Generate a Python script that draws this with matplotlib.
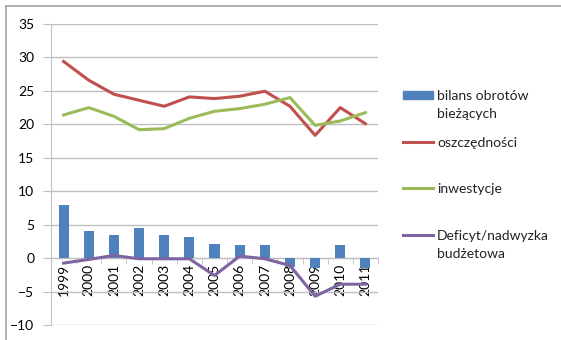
import matplotlib
matplotlib.use("Agg")
import matplotlib.pyplot as plt
from matplotlib.lines import Line2D
from matplotlib.patches import Rectangle

plt.rcParams['font.family'] = ['Lato', 'DejaVu Sans']

years = ['1999', '2000', '2001', '2002', '2003', '2004', '2005',
         '2006', '2007', '2008', '2009', '2010', '2011']
bilans = [8.0, 4.1, 3.4, 4.5, 3.5, 3.2, 2.1, 1.9, 1.9, -1.3, -1.5, 1.9, -1.5]
oszczednosci = [29.4, 26.6, 24.5, 23.6, 22.7, 24.1, 23.85, 24.2, 24.95,
                22.7, 18.35, 22.5, 20.1]
inwestycje = [21.4, 22.5, 21.2, 19.2, 19.35, 20.9, 21.95, 22.35, 23.0,
              24.0, 19.85, 20.5, 21.75]
deficyt = [-0.75, -0.2, 0.4, -0.1, -0.1, -0.1, -2.6, 0.3, -0.1,
           -1.1, -5.7, -3.9, -3.9]

labels = ['bilans obrotów\nbieżących', 'oszczędności', 'inwestycje',
          'Deficyt/nadwyzka\nbudżetowa']

BLUE = '#4F81BD'
RED = '#C0504D'
GREEN = '#9BBB59'
PURPLE = '#8064A2'
GRID = '#BFBFBF'

W, H = 561, 340
fig = plt.figure(figsize=(W / 100, H / 100), dpi=100)


def fx(x):
    return x / W


def fy(y):
    return 1 - y / H


ax = fig.add_axes([fx(51), fy(325), fx(378) - fx(51), fy(24) - fy(325)])

x = list(range(len(years)))
ax.bar(x, bilans, width=0.4, color=BLUE, zorder=2)
ax.plot(x, oszczednosci, color=RED, lw=2.2, zorder=3)
ax.plot(x, inwestycje, color=GREEN, lw=2.2, zorder=3)
ax.plot(x, deficyt, color=PURPLE, lw=2.2, zorder=3)

ax.set_xlim(-0.5, len(years) - 0.5)
ax.set_ylim(-10, 35)
ax.set_yticks(range(-10, 40, 5))
ax.yaxis.grid(True, color=GRID, lw=1)
ax.set_axisbelow(True)

for side in ('top', 'right'):
    ax.spines[side].set_visible(False)
ax.spines['left'].set_color(GRID)
ax.spines['bottom'].set_position(('data', 0))
ax.spines['bottom'].set_color(GRID)
ax.spines['bottom'].set_zorder(1)

ax.set_xticks(x)
ax.set_xticklabels(years, rotation=90, va='top', ha='center')
ax.set_xticks([i - 0.5 for i in range(len(years) + 1)], minor=True)
ax.tick_params(axis='x', which='major', length=0, pad=4, labelsize=10)
ax.tick_params(axis='x', which='minor', length=4, color=GRID, direction='out')
ax.tick_params(axis='y', length=6, color=GRID, pad=6, labelsize=10)

# chart frame edges
fig.add_artist(Line2D([fx(6), fx(6)], [fy(6), 0], transform=fig.transFigure,
                      color='#A6A6A6', lw=1.2))
fig.add_artist(Line2D([fx(6), 1], [fy(6), fy(6)], transform=fig.transFigure,
                      color='#A6A6A6', lw=1.2))

# legend
fig.add_artist(Rectangle((fx(403), fy(99)), fx(433) - fx(403), fy(91) - fy(99),
                         transform=fig.transFigure, color=BLUE))
for col, yy in ((RED, 142), (GREEN, 188), (PURPLE, 235)):
    fig.add_artist(Line2D([fx(403), fx(433)], [fy(yy), fy(yy)],
                          transform=fig.transFigure, color=col, lw=2.2))
text_rows = [(labels[0], 95), (labels[1], 142), (labels[2], 188), (labels[3], 235)]
for lab, yy in text_rows:
    for k, line in enumerate(lab.split('\n')):
        fig.text(fx(437), fy(yy + 18 * k), line, fontsize=10,
                 va='center_baseline', ha='left', color='#222222')

fig.savefig('out.png', dpi=100)
